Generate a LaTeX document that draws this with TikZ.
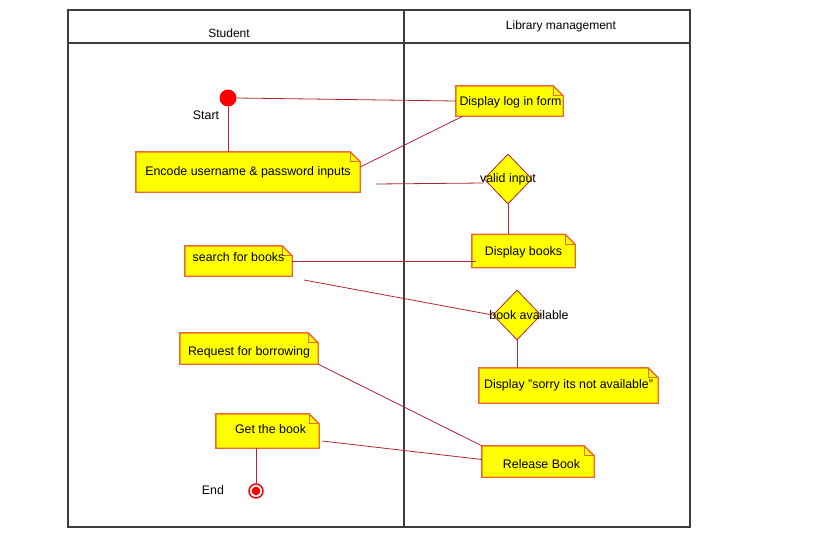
\documentclass[tikz,border=0pt]{standalone}
\usepackage{fontspec}
\setmainfont{Liberation Sans}
\usetikzlibrary{shapes.geometric,backgrounds}
\definecolor{noteyellow}{HTML}{FFFF00}
\definecolor{noteedge}{HTML}{F0682E}
\definecolor{linkred}{HTML}{B3262E}
\definecolor{lanegray}{HTML}{3C3C3C}
\newcommand\notefold[1]{%
  \fill[noteyellow] (#1.south west) -- (#1.south east) -- ([yshift=-10pt]#1.north east) -- ([xshift=-10pt]#1.north east) -- (#1.north west) -- cycle;
  \draw[noteline] (#1.south west) -- (#1.south east) -- ([yshift=-10pt]#1.north east) -- ([xshift=-10pt]#1.north east) -- (#1.north west) -- cycle;
  \draw[noteedge, line width=0.8pt] ([xshift=-10pt]#1.north east) -- ([xshift=-10pt,yshift=-10pt]#1.north east) -- ([yshift=-10pt]#1.north east);
}
\tikzset{
  x=1pt, y=-1pt,
  txt/.style={font=\fontsize{12.4}{14}\selectfont, text=black, inner sep=0pt},
  hdr/.style={font=\fontsize{12}{14}\selectfont, text=black, inner sep=0pt},
  notebox/.style={txt, minimum width=#1, text depth=3pt, text height=12pt},
  tdown/.style={text height=#1},
  noteline/.style={draw=noteedge, line width=1.4pt, line join=miter},
  decision/.style={diamond, draw=linkred, line width=0.8pt, fill=noteyellow, inner sep=0pt, minimum width=48pt, minimum height=50pt},
  link/.style={draw=linkred, line width=0.8pt},
  lane/.style={draw=lanegray, line width=1.8pt},
}
\begin{document}
\begin{tikzpicture}
\useasboundingbox (0,0) rectangle (819,535);
% swimlanes
\draw[lane] (68,10) rectangle (404,527);
\draw[lane] (404,10) rectangle (690,527);
\draw[lane] (68,43) -- (690,43);
\node[hdr] (hstudent) at (229,33) {Student};
\node[hdr] (hlib) at (561,26) {Library management};

% nodes
\node[circle, fill=red, minimum size=17pt, inner sep=0pt] (start) at (228,98) {};
\node[txt] (startlbl) at (206,115) {Start};
\node[notebox=224pt, minimum height=40pt, tdown=10pt] (encode) at (248,172) {Encode username \& password inputs};
\node[notebox=107pt, minimum height=30pt, tdown=12pt] (login) at (509.5,101) {\hspace{2pt}Display log in form};
\node[decision] (valid) at (508,179) {};
\node[txt] (validlbl) at (508,179) {valid input};
\node[notebox=103pt, minimum height=33pt, tdown=12pt] (books) at (523.5,251) {Display books};
\node[notebox=107pt, minimum height=30pt, tdown=4pt] (search) at (238.5,261) {search for books};
\node[decision] (avail) at (517,315) {};
\node[txt] (availlbl) at (529,315) {book available};
\node[notebox=179pt, minimum height=35pt, tdown=9pt] (sorry) at (568.5,385.5) {Display "sorry its not available"};
\node[notebox=138pt, minimum height=31pt, tdown=17pt] (request) at (249,348.5) {Request for borrowing};
\node[notebox=103pt, minimum height=34pt, tdown=8pt] (get) at (267.5,431) {\hspace{6pt}Get the book};
\node[notebox=112pt, minimum height=31pt, tdown=17pt] (release) at (538,461.5) {\hspace{7pt}Release Book};
\node[circle, draw=red, line width=1.5pt, fill=white, minimum size=14pt, inner sep=0pt] (end) at (256,491) {};
\fill[red] (end) circle (4.3pt);
\node[txt] (endlbl) at (213,490) {End};

\begin{scope}[on background layer]
\notefold{encode}
\notefold{login}
\notefold{books}
\notefold{search}
\notefold{sorry}
\notefold{request}
\notefold{get}
\notefold{release}
\end{scope}

% connectors
\coordinate (c1) at (376,184);
\coordinate (c2) at (304,280);
\draw[link] (start.south) -- (start.south |- encode.north);
\draw[link] (start.east) -- (login.west);
\draw[link] ([yshift=5pt]encode.east) -- ([xshift=7pt]login.south west);
\draw[link] (c1) -- ([yshift=-4pt]valid.west);
\draw[link] (valid.south) -- (valid.south |- books.north);
\draw[link] (search.east) -- ([xshift=4pt]search.east -| books.west);
\draw[link] (c2) -- (avail.west);
\draw[link] (avail.south) -- (avail.south |- sorry.north);
\draw[link] (request.south east) -- (release.north west);
\draw[link] ([yshift=-10pt,xshift=3pt]get.east) -- ([yshift=2pt]release.west);
\draw[link] (end.north |- get.south) -- (end.north);
\end{tikzpicture}
\end{document}
